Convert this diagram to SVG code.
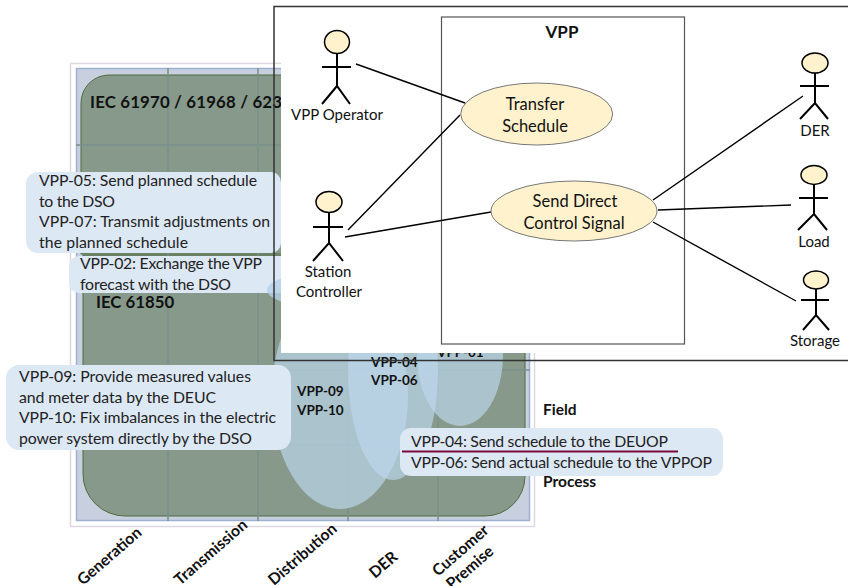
<svg xmlns="http://www.w3.org/2000/svg" width="848" height="586" viewBox="0 0 848 586">
<style>
text{font-family:"Lato","Open Sans","Liberation Sans",sans-serif;fill:#111}
.b{font-weight:700;font-size:15.5px}
.v{font-weight:700;font-size:13.5px}
.h{font-weight:700;font-size:16.800px}
.r{font-weight:700;font-size:15.800px}
.c{font-size:15.800px;fill:#222}
.a{font-size:15px;text-anchor:middle}
.u{font-size:16.500px;text-anchor:middle}
.grid{stroke:#78908a;stroke-width:2;fill:none;opacity:.75}
.bub{fill:#dde8f5}
.ell{fill:#bdd7ee;fill-opacity:.68}
.st{fill:#fff2cc;stroke:#000;stroke-width:1.500}
.ln{stroke:#000;stroke-width:1.400;fill:none}
.act{stroke:#000;stroke-width:2;fill:none}
</style>
<g id="background">
<rect x="70.500" y="63.500" width="464" height="463" fill="#fff" stroke="#ddd8e0" stroke-width="1.500"/>
<rect x="76.500" y="68.500" width="453" height="452" fill="#c8cfdf" stroke="#9fb0d0" stroke-width="1.500"/>
<path d="M81 254V103a28 28 0 0 1 28-28H525V254Z" fill="#87998a" stroke="#4f6b3f" stroke-width="1"/>
<path d="M83 255V474a42 42 0 0 0 42 42H485a40 40 0 0 0 40-40V255Z" fill="#87998a" stroke="#4f6b3f" stroke-width="1"/>
<path class="grid" d="M168 68V521M258 68V521M348 68V521M438 68V521M76 145H530M76 370H530M76 445H530"/>
</g>
<g id="zones">
<ellipse class="ell" cx="340" cy="395" rx="68" ry="114"/>
<ellipse class="ell" cx="393" cy="370" rx="45" ry="110"/>
<ellipse class="ell" cx="460" cy="355" rx="43" ry="71"/>
</g>
<g id="labels">
<text class="h" x="90" y="108" textLength="192">IEC 61970 / 61968 / 623</text>
<text class="h" x="96" y="308">IEC 61850</text>
<text class="v" x="297" y="396">VPP-09</text>
<text class="v" x="297" y="415">VPP-10</text>
<text class="v" x="371" y="367">VPP-04</text>
<text class="v" x="371" y="385">VPP-06</text>
<text class="v" x="437" y="357">VPP-01</text>
<text class="b" x="543" y="415">Field</text>
<text class="b" x="543" y="487">Process</text>
<text class="r" transform="translate(83 586) rotate(-41)">Generation</text>
<text class="r" transform="translate(180 586) rotate(-41)">Transmission</text>
<text class="r" transform="translate(274 586) rotate(-41)">Distribution</text>
<text class="r" transform="translate(375 579) rotate(-41)">DER</text>
<text class="r" transform="translate(438 577) rotate(-41)">Customer</text>
<text class="r" transform="translate(452 590) rotate(-41)">Premise</text>
</g>
<g id="callout-05-07">
<path class="bub" d="M38 172H271a10 10 0 0 1 10 10V243a10 10 0 0 1-10 10H38a12 12 0 0 1-12-12V184a12 12 0 0 1 12-12Z"/>
<text class="c" x="39" y="186" textLength="218">VPP-05: Send planned schedule</text>
<text class="c" x="39" y="207" textLength="76">to the DSO</text>
<text class="c" x="39" y="227" textLength="231">VPP-07: Transmit adjustments on</text>
<text class="c" x="39" y="248" textLength="149">the planned schedule</text>
</g>
<g id="callout-02">
<path class="bub" d="M79 256H281V293H79a10 10 0 0 1-10-10V266a10 10 0 0 1 10-10Z"/>
<text class="c" x="80" y="269" textLength="182">VPP-02: Exchange the VPP</text>
<text class="c" x="80" y="290" textLength="151">forecast with the DSO</text>
</g>
<g id="zone-02">
<ellipse cx="330" cy="290" rx="63" ry="18" fill="#b5d0e8" fill-opacity=".8"/>
</g>
<g id="diagram-panel">
<rect x="281" y="0" width="567" height="353" fill="#fff"/>
<rect x="274" y="6.500" width="580" height="354" fill="none" stroke="#333" stroke-width="1.500"/>
</g>
<g id="vpp-boundary">
<rect x="441.500" y="17" width="243" height="327" fill="none" stroke="#555" stroke-width="1.200"/>
<text x="562" y="38" text-anchor="middle" style="font-weight:700;font-size:17px">VPP</text>
</g>
<g id="connectors">
<path class="ln" d="M356 64L465 103M348 230L460 115M345 237L491 212M653 200L803 96M658 210L791 205M653 222L796 301"/>
</g>
<g id="uc-transfer">
<ellipse cx="536.700" cy="114" rx="76" ry="31" fill="#fff2cc" stroke="#777" stroke-width="1"/>
<text class="u" x="535" y="110">Transfer</text>
<text class="u" x="535" y="132">Schedule</text>
</g>
<g id="uc-send">
<ellipse cx="574" cy="211" rx="83" ry="30" fill="#fff2cc" stroke="#777" stroke-width="1"/>
<text class="u" x="575" y="207">Send Direct</text>
<text class="u" x="574" y="229">Control Signal</text>
</g>
<g id="actor-operator">
<ellipse class="st" cx="337" cy="42" rx="12.500" ry="11.500"/>
<path class="act" d="M337 53V86M322 67H351M322 104L337 86L350 104"/>
<text class="a" x="337" y="120">VPP Operator</text>
</g>
<g id="actor-station">
<ellipse class="st" cx="329" cy="202" rx="13" ry="10.500"/>
<path class="act" d="M329 213V243M313 227H343M313 261L329 243L343 261"/>
<text class="a" x="328" y="277">Station</text>
<text class="a" x="329" y="297">Controller</text>
</g>
<g id="actor-der">
<ellipse class="st" cx="815" cy="63" rx="13" ry="10"/>
<path class="act" d="M815 73V103M800 86H829M800 119L815 103L828 119"/>
<text class="a" x="815" y="136">DER</text>
</g>
<g id="actor-load">
<ellipse class="st" cx="814" cy="175" rx="13" ry="9.500"/>
<path class="act" d="M814 184V214M799 198H828M798 230L814 214L827 230"/>
<text class="a" x="814" y="247">Load</text>
</g>
<g id="actor-storage">
<ellipse class="st" cx="816" cy="280" rx="12.500" ry="9"/>
<path class="act" d="M816 289V315M801 300H829M803 330L816 315L829 330"/>
<text class="a" x="815" y="346">Storage</text>
</g>
<g id="callout-09-10">
<rect class="bub" x="6" y="365" width="285" height="85" rx="13"/>
<text class="c" x="19" y="382" textLength="232">VPP-09: Provide measured values</text>
<text class="c" x="19" y="403" textLength="197">and meter data by the DEUC</text>
<text class="c" x="19" y="423" textLength="257">VPP-10: Fix imbalances in the electric</text>
<text class="c" x="19" y="444" textLength="233">power system directly by the DSO</text>
</g>
<g id="callout-04-06">
<rect class="bub" x="400" y="428" width="323" height="48" rx="11"/>
<text class="c" x="411" y="447" textLength="257">VPP-04: Send schedule to the DEUOP</text>
<text class="c" x="411" y="468" textLength="301">VPP-06: Send actual schedule to the VPPOP</text>
<path d="M402 451.500H678" stroke="#7a0a3c" stroke-width="2" fill="none"/>
</g>
</svg>
